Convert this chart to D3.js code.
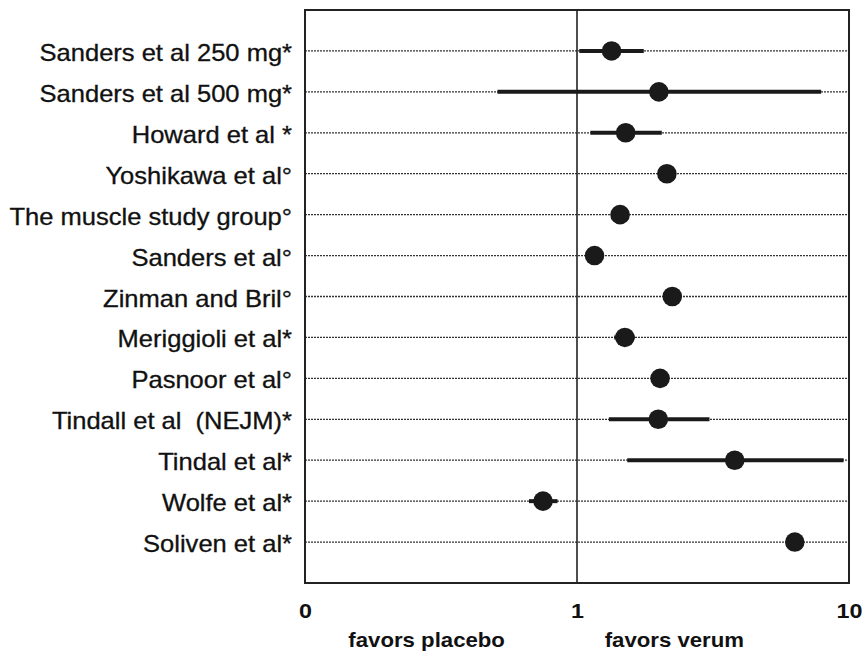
<!DOCTYPE html>
<html>
<head>
<meta charset="utf-8">
<script src="https://cdn.jsdelivr.net/npm/d3@7"></script>
<style>
  html, body { margin: 0; padding: 0; background: #fff; }
  svg { display: block; }
  text { font-family: "Liberation Sans", Arial, sans-serif; fill: #111; white-space: pre; }
</style>
</head>
<body>
<svg id="chart" width="865" height="653"></svg>
<script>
// Studies, top to bottom
const studies = [
  "Sanders et al 250 mg*",
  "Sanders et al 500 mg*",
  "Howard et al *",
  "Yoshikawa et al°",
  "The muscle study group°",
  "Sanders et al°",
  "Zinman and Bril°",
  "Meriggioli et al*",
  "Pasnoor et al°",
  "Tindall et al  (NEJM)*",
  "Tindal et al*",
  "Wolfe et al*",
  "Soliven et al*"
];
// Point estimates and confidence limits (null = no interval drawn)
const estimate = [1.34, 2.0, 1.51, 2.14, 1.44, 1.16, 2.24, 1.50, 2.02, 1.99, 3.80, 0.75, 6.32];
const ciLow    = [1.02, 0.51, 1.12, null, null, null, null, 1.37, null, 1.31, 1.53, 0.666, null];
const ciHigh   = [1.76, 7.90, 2.05, null, null, null, null, 1.63, null, 3.07, 9.55, 0.848, null];

// Axis ticks
const tickValues = [0.1, 1, 10];
const tickLabels = ["0", "1", "10"];
const sideLabels = ["favors placebo", "favors verum"];
const sideAt = [0.28, 2.28];

const svg = d3.select("#chart");
const frame = { left: 305, right: 849, top: 10, bottom: 583 };
const stretch = "scale(1.11,1)";

const x = d3.scaleLog().domain([0.1, 10]).range([frame.left, frame.right]);
const y = d3.scalePoint().domain(studies).range([frame.top, frame.bottom]).padding(1);

// Dotted guide lines for each study
svg.append("g").selectAll("line").data(studies).join("line")
  .attr("x1", frame.left).attr("x2", frame.right)
  .attr("y1", d => y(d)).attr("y2", d => y(d))
  .attr("stroke", "#333").attr("stroke-width", 1.3)
  .attr("stroke-dasharray", "2,1");

// Line of no effect
svg.append("line")
  .attr("x1", x(1)).attr("x2", x(1))
  .attr("y1", frame.top).attr("y2", frame.bottom)
  .attr("stroke", "#222").attr("stroke-width", 1.6);

// Frame
svg.append("rect")
  .attr("x", frame.left).attr("y", frame.top)
  .attr("width", frame.right - frame.left).attr("height", frame.bottom - frame.top)
  .attr("fill", "none").attr("stroke", "#222").attr("stroke-width", 2);

// Confidence intervals
svg.append("g").selectAll("line").data(studies.filter((d, i) => ciLow[i] !== null))
  .join("line")
  .attr("x1", d => x(ciLow[studies.indexOf(d)]))
  .attr("x2", d => x(ciHigh[studies.indexOf(d)]))
  .attr("y1", d => y(d)).attr("y2", d => y(d))
  .attr("stroke", "#1a1a1a").attr("stroke-width", 4);

// Point estimates
svg.append("g").selectAll("circle").data(studies).join("circle")
  .attr("cx", (d, i) => x(estimate[i]))
  .attr("cy", d => y(d))
  .attr("r", 9.8)
  .attr("fill", "#1a1a1a");

// Study labels
svg.append("g").selectAll("text").data(studies).join("text")
  .attr("transform", d => `translate(292,${y(d) + 10}) ${stretch}`)
  .attr("text-anchor", "end")
  .attr("font-size", 23)
  .attr("stroke", "#111").attr("stroke-width", 0.3)
  .text(d => d);

// Bottom axis (labels only)
const axis = d3.axisBottom(x)
  .tickValues(tickValues)
  .tickFormat((d, i) => tickLabels[i])
  .tickSize(0).tickPadding(0);
const gAxis = svg.append("g").attr("transform", `translate(0,${frame.bottom})`).call(axis);
gAxis.select(".domain").remove();
gAxis.selectAll("text")
  .attr("y", 35).attr("dy", 0)
  .attr("transform", stretch)
  .attr("font-size", 21).attr("font-weight", "bold")
  .attr("font-family", "'Liberation Sans', Arial, sans-serif")
  .attr("fill", "#111");

// Direction labels
svg.append("g").selectAll("text").data(sideLabels).join("text")
  .attr("transform", (d, i) => `translate(${x(sideAt[i])},647) ${stretch}`)
  .attr("text-anchor", "middle")
  .attr("font-size", 20).attr("font-weight", "bold")
  .text(d => d);
</script>
</body>
</html>
